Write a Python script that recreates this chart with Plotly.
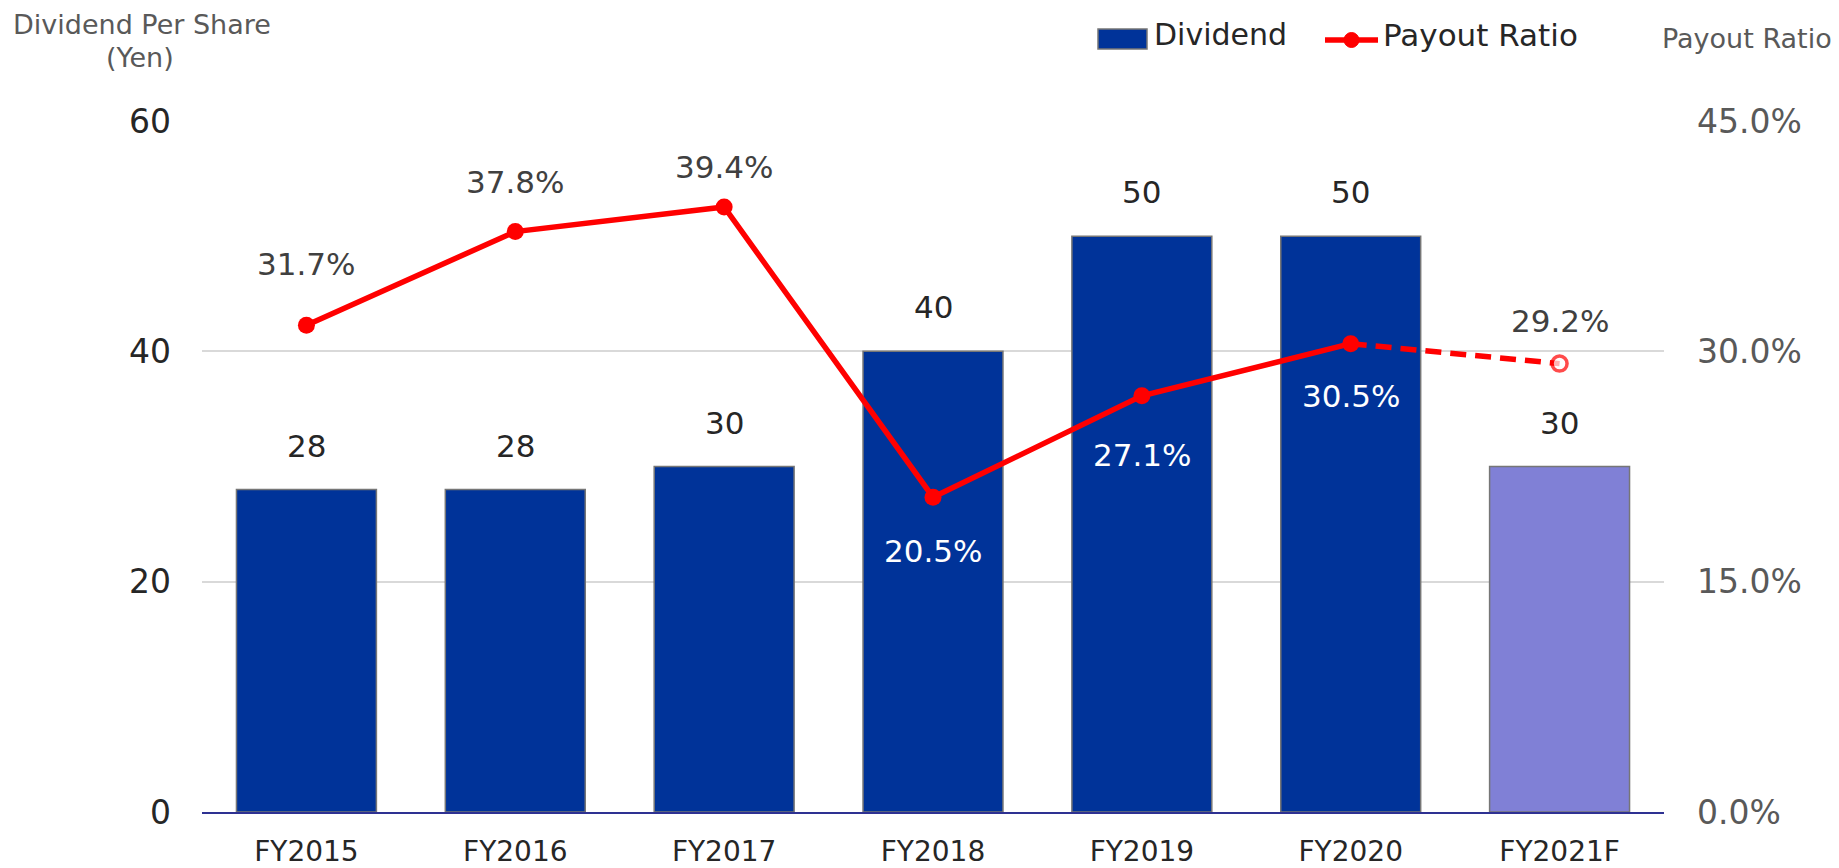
import plotly.graph_objects as go

categories = ["FY2015", "FY2016", "FY2017", "FY2018", "FY2019", "FY2020", "FY2021F"]
dividend = [28, 28, 30, 40, 50, 50, 30]
payout = [31.7, 37.8, 39.4, 20.5, 27.1, 30.5, 29.2]
is_forecast = [False, False, False, False, False, False, True]

left_ticks = [0, 20, 40, 60]
right_ticks = [0, 15, 30, 45]

# styling
FONT = "DejaVu Sans"
DARK_BAR = "#003399"
FCST_BAR = "#8080D6"
RED = "#FF0000"
bar_colors = [FCST_BAR if f else DARK_BAR for f in is_forecast]
pct_shift = [61, 50, 40, -54, -59, -52, 43]  # label offsets (px) from points
pct_color = ["#404040" if s > 0 else "#FFFFFF" for s in pct_shift]

L, R, T, B = 202, 175, 121, 56
W, H = 1839, 868
pw, ph = W - L - R, H - T - B


def px(x):
    return (x - L) / pw


def py(y):
    return (H - B - y) / ph


fig = go.Figure()

fig.add_trace(go.Bar(
    x=categories, y=dividend, name="Dividend",
    marker=dict(color=bar_colors, line=dict(color="#767676", width=1.5)),
    yaxis="y", hoverinfo="skip", showlegend=False,
))

n_act = sum(1 for f in is_forecast if not f)
fig.add_trace(go.Scatter(
    x=categories[:n_act], y=payout[:n_act], name="Payout Ratio", yaxis="y2",
    mode="lines+markers", showlegend=False,
    line=dict(color=RED, width=5.5),
    marker=dict(symbol="circle", size=17, color=RED),
))
fig.add_trace(go.Scatter(
    x=categories[n_act - 1:], y=payout[n_act - 1:], showlegend=False, yaxis="y2",
    mode="lines+markers",
    line=dict(color=RED, width=5.5, dash="16px,9px"),
    marker=dict(symbol="circle", size=[0] + [15] * (len(categories) - n_act),
                color="white", line=dict(color=RED, width=3.5)),
))

annotations = []
for c, v in zip(categories, dividend):
    annotations.append(dict(x=c, y=v, xref="x", yref="y", text=str(v), showarrow=False,
                            yshift=44, font=dict(family=FONT, size=31, color="#262626")))
for c, v, s, col in zip(categories, payout, pct_shift, pct_color):
    annotations.append(dict(x=c, y=v, xref="x", yref="y2", text=f"{v:.1f}%", showarrow=False,
                            yshift=s, font=dict(family=FONT, size=31, color=col)))


def ptext(x, y, text, size, color, xanchor="center"):
    return dict(x=px(x), y=py(y), xref="paper", yref="paper", text=text, showarrow=False,
                font=dict(family=FONT, size=size, color=color), xanchor=xanchor, yanchor="middle")


annotations += [
    ptext(142, 25, "Dividend Per Share", 27, "#595959"),
    ptext(140, 57, "(Yen)", 27, "#595959"),
    ptext(1747, 38, "Payout Ratio", 27, "#595959"),
    # legend texts
    ptext(1152, 35, "Dividend", 30, "#262626", "left"),
    ptext(1381, 35, "Payout Ratio", 31, "#262626", "left"),
]

shapes = [
    # legend swatches
    dict(type="rect", xref="paper", yref="paper", x0=px(1098), x1=px(1147), y0=py(49), y1=py(29),
         fillcolor=DARK_BAR, line=dict(color="#767676", width=1.5)),
    dict(type="line", xref="paper", yref="paper", x0=px(1325), x1=px(1378), y0=py(40), y1=py(40),
         line=dict(color=RED, width=5.5)),
    dict(type="circle", xref="paper", yref="paper", x0=px(1344), x1=px(1359), y0=py(47.5), y1=py(32.5),
         fillcolor=RED, line=dict(color=RED, width=1)),
]

fig.update_layout(
    width=W, height=H,
    margin=dict(l=L, r=R, t=T, b=B, autoexpand=False),
    paper_bgcolor="white", plot_bgcolor="white",
    font=dict(family=FONT, color="#262626"),
    bargap=0.33,
    showlegend=False,
    xaxis=dict(
        showgrid=False, showline=True, linecolor="#2E3192", linewidth=2,
        ticks="", tickfont=dict(family=FONT, size=28, color="#262626"),
        ticklabelstandoff=13, fixedrange=True,
    ),
    yaxis=dict(
        range=[0, 60], tickvals=left_ticks, showgrid=True, gridcolor="#D9D9D9", gridwidth=1.5,
        zeroline=False, showline=False, ticks="",
        tickfont=dict(family=FONT, size=33, color="#262626"), ticklabelstandoff=30,
    ),
    yaxis2=dict(
        range=[0, 45], tickvals=right_ticks, ticktext=[f"{t:.1f}%" for t in right_ticks],
        overlaying="y", side="right", showgrid=False, zeroline=False, showline=False, ticks="",
        tickfont=dict(family=FONT, size=33, color="#595959"), ticklabelstandoff=32,
    ),
    annotations=annotations,
    shapes=shapes,
)

fig.write_html("out.html", config={"displayModeBar": False},
               post_script="document.body.style.margin='0';document.body.style.overflow='hidden';")
